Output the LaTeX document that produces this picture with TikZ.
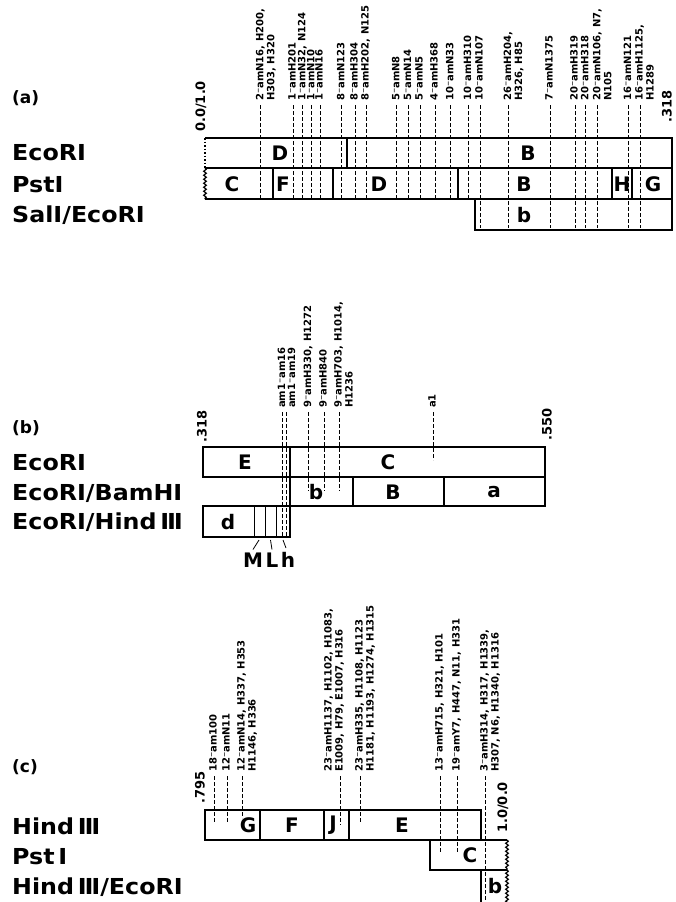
\documentclass[tikz,border=0pt]{standalone}
\usepackage{fontspec}
\setmainfont{DejaVu Sans}
\newfontfamily\widefont[FakeStretch=1.08]{DejaVu Sans}
\usetikzlibrary{decorations.pathmorphing}

\begin{document}
\begin{tikzpicture}[x=1pt, y=-1pt,
  every node/.style={font=\bfseries, inner sep=0pt},
  enz/.style={anchor=west, font=\widefont\bfseries\fontsize{22}{24}\selectfont},
  frag/.style={font=\bfseries\fontsize{20}{22}\selectfont},
  mut/.style={rotate=90, anchor=mid west, font=\bfseries\fontsize{10}{11}\selectfont},
  mapnum/.style={rotate=90, anchor=west, font=\bfseries\fontsize{13}{14}\selectfont},
  panel/.style={anchor=west, font=\bfseries\fontsize{17}{19}\selectfont},
  mapbox/.style={line width=1.8pt},
  cut/.style={line width=1.4pt},
  amline/.style={dash pattern=on 3.5pt off 2.5pt, line width=0.8pt},
  wavy/.style={line width=1.2pt, decorate, decoration={snake, amplitude=1.3pt, segment length=4pt}}
]
  \useasboundingbox (0,0) rectangle (675,902);
  \clip (0,0) rectangle (675,902);

  % ---------------- (a) ----------------
  \node[panel] (pa) at (12,98) {(a)};
  \node[mapnum] (a0) at (201,132) {0.0/1.0};
  \node[mapnum] (a318) at (667,123) {.318};
  \node[enz] (aeco) at (12,153) {EcoRI};
  \node[enz] (apst) at (12,185) {PstI};
  \node[enz] (asal) at (12,215) {SalI/EcoRI};
  % EcoRI
  \draw[mapbox] (205,138) -- (672,138) -- (672,168) -- (205,168);
  \draw[line width=1.5pt, dotted] (205,138) -- (205,168);
  \draw[cut] (347,138) -- (347,168);
  % PstI
  \draw[mapbox] (205,168) -- (672,168) -- (672,199) -- (205,199);
  \draw[wavy] (205,168) -- (205,199);
  \foreach \x in {273,333,458,612,632}
    \draw[cut] (\x,168) -- (\x,199);
  % SalI/EcoRI
  \draw[mapbox] (475,199) rectangle (672,230);
  \node[frag] (aD) at (280,153) {D};
  \node[frag] (aB) at (528,153) {B};
  \node[frag] (pC) at (232,184) {C};
  \node[frag] (pF) at (283,184) {F};
  \node[frag] (pD) at (379,184) {D};
  \node[frag] (pB) at (524,184) {B};
  \node[frag] (pH) at (622,184) {H};
  \node[frag] (pG) at (653,184) {G};
  \node[frag] (sb) at (524,215) {b};
  % mutanti (a)
  \foreach \x/\yb/\t [count=\i] in {
      260.7/199/{2⁻amN16, H200,}, 293/199/1⁻amH201, 302.7/199/{1⁻amN32, N124},
      311.7/199/1⁻amN10, 320/199/1⁻amN16, 341.7/199/8⁻amN123,
      355/199/8⁻amH304, 366/199/{8⁻amH202, N125}, 396.7/199/5⁻amN8,
      408.3/199/5⁻amN14, 420/199/5⁻amN5, 435/199/4⁻amH368,
      450.7/199/10⁻amN33, 468.3/199/10⁻amH310, 480/228/10⁻amN107,
      508.3/228/{26⁻amH204,}, 550/228/7⁻amN1375, 575/228/20⁻amH319,
      585.7/228/20⁻amH318, 597.7/228/{20⁻amN106, N7,}, 628.3/228/16⁻amN121,
      640/228/{16⁻amH1125,}} {
    \node[mut] (ma\i) at (\x,101) {\t};
    \draw[amline] (ma\i.mid west) ++(0,4) -- (\x,\yb);
  }
  \foreach \x/\t [count=\i] in {260.7/{H303, H320}, 508.3/{H326, H85}, 597.7/N105, 640/H1289}
    \node[mut] (mb\i) at (\x+11,101) {\t};

  % ---------------- (b) ----------------
  \node[panel] (pb) at (12,428) {(b)};
  \node[mapnum] (b318) at (202,443) {.318};
  \node[mapnum] (b550) at (547,441) {.550};
  \node[enz] (beco) at (12,463) {EcoRI};
  \node[enz] (bbam) at (12,493) {EcoRI/BamHI};
  \node[enz] (bhin) at (12,522) {EcoRI/Hind\,Ⅲ};
  \draw[mapbox] (203,447) rectangle (545,477);
  \draw[cut] (290,447) -- (290,477);
  \draw[mapbox] (290,477) rectangle (545,506);
  \foreach \x in {353,444}
    \draw[cut] (\x,477) -- (\x,506);
  \draw[mapbox] (203,506) rectangle (290,537);
  \foreach \x in {254,265,276}
    \draw[line width=1pt] (\x,506) -- (\x,537);
  \node[frag] (bE) at (245,462) {E};
  \node[frag] (bC) at (388,462) {C};
  \node[frag] (mb) at (316,492) {b};
  \node[frag] (mB) at (393,492) {B};
  \node[frag] (ma) at (494,492) {a};
  \node[frag] (hd) at (228,522) {d};
  \node[frag] (hM) at (253,560) {M};
  \node[frag] (hL) at (272,560) {L};
  \node[frag] (hh) at (288,560) {h};
  \draw[line width=0.8pt] (259,540) -- ([yshift=3pt]hM.north);
  \draw[line width=0.8pt] (270.5,540) -- ([yshift=3pt]hL.north);
  \draw[line width=0.8pt] (283,540) -- (286,548);
  % mutanti (b)
  \foreach \x/\lx/\yb/\t [count=\i] in {
      282.5/282.7/537/am1⁻am16, 292.5/286.7/537/am1⁻am19,
      308.5/308.5/491/{9⁻amH330, H1272}, 324/324/491/9⁻amH840,
      339/339/491/{9⁻amH703, H1014,}, 433/433/460/a1} {
    \node[mut] (mc\i) at (\x,408) {\t};
    \draw[amline] (mc\i.mid west -| \lx,0) ++(0,4) -- (\lx,\yb);
  }
  \node[mut] (md1) at (350,408) {H1236};

  % ---------------- (c) ----------------
  \node[panel] (pc) at (12,767) {(c)};
  \node[mapnum] (c795) at (200,804) {.795};
  \node[mapnum] (c10) at (503,833) {1.0/0.0};
  \node[enz] (chin) at (12,826) {Hind\,Ⅲ};
  \node[enz] (cpst) at (12,857) {Pst\,I};
  \node[enz] (ceco) at (12,887) {Hind\,Ⅲ/EcoRI};
  \draw[mapbox] (205,810) rectangle (481,840);
  \foreach \x in {260,324,349}
    \draw[cut] (\x,810) -- (\x,840);
  \draw[mapbox] (507,840) -- (430,840) -- (430,870) -- (507,870);
  \draw[wavy] (507,840) -- (507,870);
  \draw[mapbox] (481,870) -- (481,905);
  \draw[wavy] (507,870) -- (507,905);
  \node[frag] (cG) at (248,825) {G};
  \node[frag] (cF) at (292,825) {F};
  \node[frag] (cJ) at (333,825) {J};
  \node[frag] (cE) at (402,825) {E};
  \node[frag] (cC) at (470,855) {C};
  \node[frag] (cb) at (495,886) {b};
  % mutanti (c)
  \foreach \x/\lx/\yb/\t [count=\i] in {
      214/214/823/18⁻am100, 227/227/823/12⁻amN11, 242/242/818/{12⁻amN14, H337, H353},
      329/340/825/{23⁻amH1137, H1102, H1083,}, 360/360/823/{23⁻amH335, H1108, H1123},
      440/440/853/{13⁻amH715, H321, H101}, 457/457/852/{19⁻amY7, H447, N11, H331},
      485/485/905/{3⁻amH314, H317, H1339,}} {
    \node[mut] (me\i) at (\x,772) {\t};
    \draw[amline] (me\i.mid west -| \lx,0) ++(0,4) -- (\lx,\yb);
  }
  \foreach \x/\t [count=\i] in {253/{H1146, H336}, 340/{E1009, H79, E1007, H316},
      371/{H1181, H1193, H1274, H1315}, 496/{H307, N6, H1340, H1316}}
    \node[mut] (mf\i) at (\x,772) {\t};
\end{tikzpicture}
\end{document}
